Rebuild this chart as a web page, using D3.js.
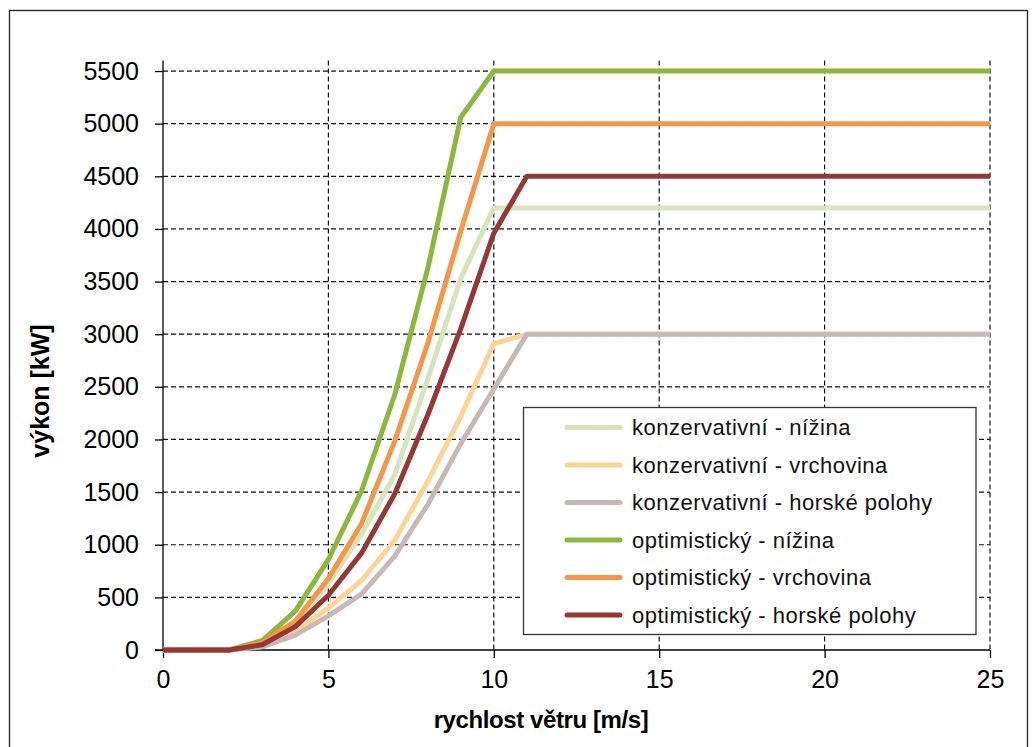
<!DOCTYPE html>
<html>
<head>
<meta charset="utf-8">
<script src="https://cdn.jsdelivr.net/npm/d3@7"></script>
<style>
  body { margin: 0; background: #fff; }
  svg { font-family: "Liberation Sans", Arial, sans-serif; }
</style>
</head>
<body>
<div id="main"></div>
<script>
// wind speed [m/s]
const speeds = d3.range(0, 26);

// power curves [kW], one value per m/s
const konzNizina    = [0,0,0,60,250,630,1100,1660,2570,3530,4200,4200,4200,4200,4200,4200,4200,4200,4200,4200,4200,4200,4200,4200,4200,4200];
const konzVrchovina = [0,0,0,40,175,400,660,1040,1600,2220,2910,3000,3000,3000,3000,3000,3000,3000,3000,3000,3000,3000,3000,3000,3000,3000];
const konzHorske    = [0,0,0,30,142,325,530,890,1380,1960,2480,3000,3000,3000,3000,3000,3000,3000,3000,3000,3000,3000,3000,3000,3000,3000];
const optNizina     = [0,0,0,90,370,860,1510,2420,3620,5060,5500,5500,5500,5500,5500,5500,5500,5500,5500,5500,5500,5500,5500,5500,5500,5500];
const optVrchovina  = [0,0,0,70,275,680,1200,1980,2910,3980,5000,5000,5000,5000,5000,5000,5000,5000,5000,5000,5000,5000,5000,5000,5000,5000];
const optHorske     = [0,0,0,50,222,520,920,1480,2230,3050,3960,4500,4500,4500,4500,4500,4500,4500,4500,4500,4500,4500,4500,4500,4500,4500];

const seriesNames = [
  "konzervativní - nížina",
  "konzervativní - vrchovina",
  "konzervativní - horské polohy",
  "optimistický - nížina",
  "optimistický - vrchovina",
  "optimistický - horské polohy"
];
const seriesValues = [konzNizina, konzVrchovina, konzHorske, optNizina, optVrchovina, optHorske];
const seriesColors = ["#d7e4bd", "#fcd596", "#c9b8b8", "#8cb63c", "#f79646", "#953735"];

const xTicks = [0, 5, 10, 15, 20, 25];
const yTicks = d3.range(0, 5501, 500);

const ctx = {width: 1035, height: 747,
  left: 163, right: 990, top: 60.5, bottom: 650};

const svg = d3.select("#main").append("svg")
  .attr("width", ctx.width)
  .attr("height", ctx.height);

// outer frame
svg.append("rect")
  .attr("x", 9.5).attr("y", 10.5)
  .attr("width", 1018).attr("height", 760)
  .attr("fill", "none").attr("stroke", "#222").attr("stroke-width", 1.3);

const x = d3.scaleLinear().domain([0, 25]).range([ctx.left, ctx.right]);
const y = d3.scaleLinear().domain([0, 5600]).range([ctx.bottom, ctx.top]);

// grid
svg.append("g").selectAll("line").data(yTicks.filter(d => d > 0)).join("line")
  .attr("x1", ctx.left).attr("x2", ctx.right)
  .attr("y1", d => y(d)).attr("y2", d => y(d))
  .attr("stroke", "#111").attr("stroke-width", 1.2).attr("stroke-dasharray", "5,3");

svg.append("g").selectAll("line").data(xTicks.filter(d => d > 0)).join("line")
  .attr("x1", d => x(d)).attr("x2", d => x(d))
  .attr("y1", ctx.top).attr("y2", ctx.bottom)
  .attr("stroke", "#111").attr("stroke-width", 1.2).attr("stroke-dasharray", "5,3");

// axes
const yAxis = svg.append("g")
  .attr("transform", `translate(${ctx.left},0)`)
  .call(d3.axisLeft(y).tickValues(yTicks).tickFormat(d3.format("d"))
    .tickSize(8).tickPadding(16).tickSizeOuter(0));
yAxis.select(".domain").attr("d", `M0,${ctx.top}V${ctx.bottom}`);

const xAxis = svg.append("g")
  .attr("transform", `translate(0,${ctx.bottom})`)
  .call(d3.axisBottom(x).tickValues(xTicks).tickSize(8).tickPadding(12).tickSizeOuter(0));
xAxis.select(".domain").attr("d", `M${ctx.left - 8},0H${ctx.right}`);

svg.selectAll(".tick text")
  .attr("font-size", 25).attr("font-family", "Liberation Sans, Arial, sans-serif").attr("fill", "#000");
svg.selectAll(".tick line, .domain").attr("stroke", "#000").attr("stroke-width", 1.3);

// curves
const line = d3.line()
  .x((d, i) => x(speeds[i]))
  .y(d => y(d));

svg.append("g").selectAll("path").data(seriesValues).join("path")
  .attr("d", d => line(d))
  .attr("fill", "none")
  .attr("stroke", (d, i) => seriesColors[i])
  .attr("stroke-width", 5)
  .attr("stroke-linejoin", "round");

// axis titles
svg.append("text")
  .attr("x", 541).attr("y", 728)
  .attr("text-anchor", "middle")
  .attr("font-size", 24).attr("font-weight", "bold").attr("letter-spacing", -0.4)
  .text("rychlost větru [m/s]");

svg.append("text")
  .attr("transform", "translate(49,391) rotate(-90)")
  .attr("text-anchor", "middle")
  .attr("font-size", 25).attr("font-weight", "bold")
  .text("výkon [kW]");

// legend
const legend = svg.append("g");
legend.append("rect")
  .attr("x", 523.5).attr("y", 407.5)
  .attr("width", 452.5).attr("height", 227)
  .attr("fill", "#fff").attr("stroke", "#333").attr("stroke-width", 1.3);

const rows = legend.selectAll("g.row").data(seriesNames).join("g")
  .attr("class", "row")
  .attr("transform", (d, i) => `translate(0,${427.5 + i * 37.5})`);

rows.append("line")
  .attr("x1", 567).attr("x2", 620)
  .attr("stroke", (d, i) => seriesColors[i])
  .attr("stroke-width", 5).attr("stroke-linecap", "round");

rows.append("text")
  .attr("x", 632).attr("dy", "0.36em")
  .attr("font-size", 22).attr("letter-spacing", 0.5)
  .attr("fill", "#111")
  .text(d => d);
</script>
</body>
</html>
